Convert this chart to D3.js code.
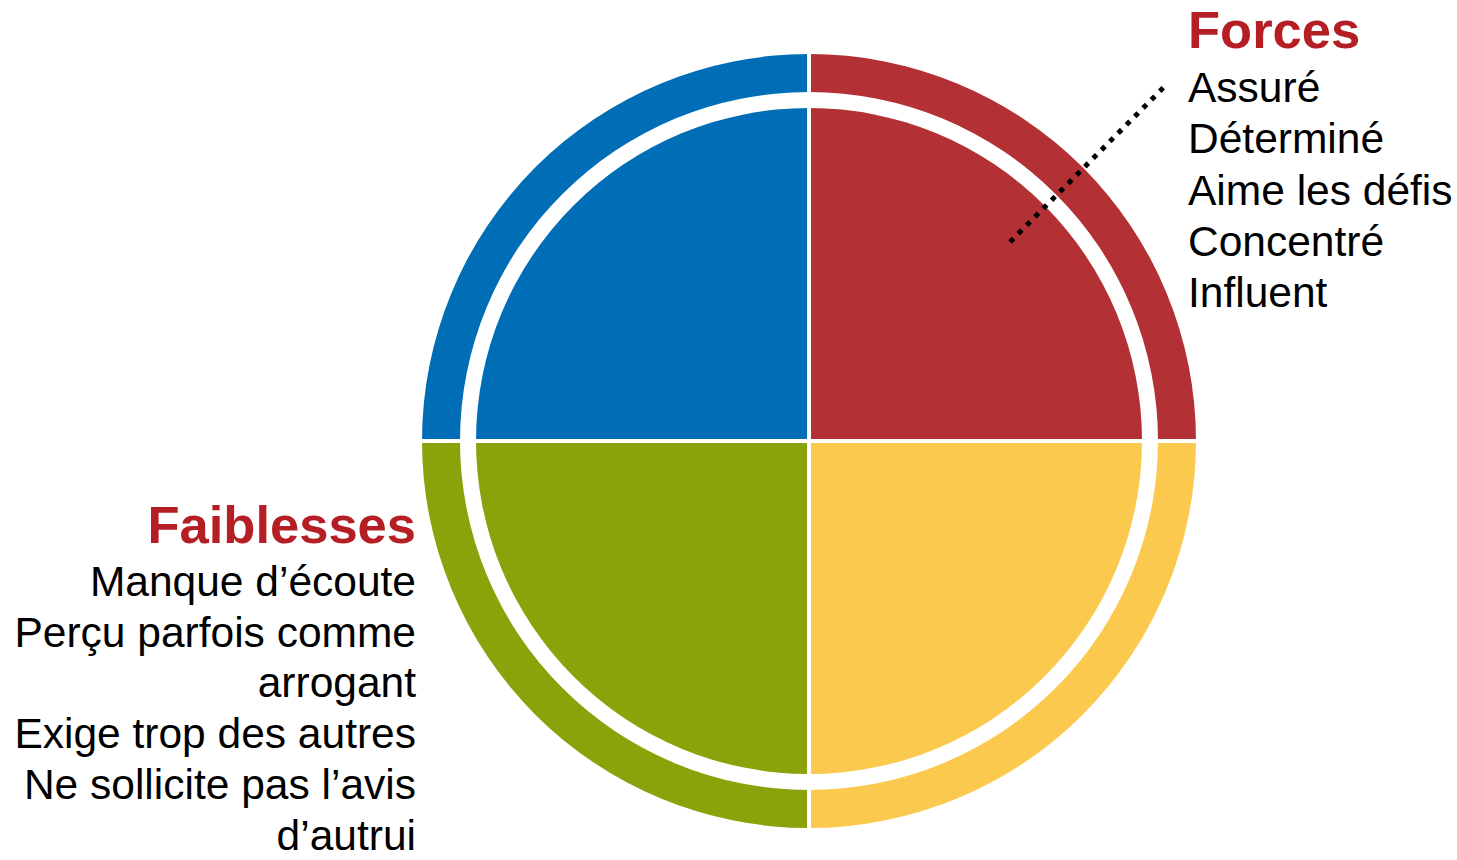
<!DOCTYPE html>
<html>
<head>
<meta charset="utf-8">
<script src="https://cdn.jsdelivr.net/npm/d3@7"></script>
<style>
  html, body { margin: 0; padding: 0; background: #fff; }
  svg { display: block; }
  text { font-family: "Liberation Sans", Arial, sans-serif; }
</style>
</head>
<body>
<svg id="chart" width="1457" height="860"></svg>
<script>
// Data
const quadrants = ["Forces", "Quadrant jaune", "Quadrant vert", "Quadrant bleu"];
const quadrantValues = [1, 1, 1, 1];
const quadrantColors = ["#B33034", "#FBC94E", "#8AA30A", "#006EB6"];
const forcesTitle = "Forces";
const forcesItems = ["Assuré", "Déterminé", "Aime les défis", "Concentré", "Influent"];
const faiblessesTitle = "Faiblesses";
const faiblessesItems = ["Manque d’écoute", "Perçu parfois comme", "arrogant", "Exige trop des autres", "Ne sollicite pas l’avis", "d’autrui"];

const svg = d3.select("#chart");
const cx = 809, cy = 441;
const rOuter = 387, rRingInner = 349, rPie = 333;
const gap = 4;

const pie = d3.pie().sort(null).value(d => d)(quadrantValues);

const g = svg.append("g").attr("transform", `translate(${cx},${cy})`);

const ringArc = d3.arc().innerRadius(rRingInner).outerRadius(rOuter);
const pieArc = d3.arc().innerRadius(0).outerRadius(rPie);

g.selectAll("path.ring").data(pie).join("path")
  .attr("class", "ring")
  .attr("d", ringArc)
  .attr("fill", (d, i) => quadrantColors[i]);

g.selectAll("path.slice").data(pie).join("path")
  .attr("class", "slice")
  .attr("d", pieArc)
  .attr("fill", (d, i) => quadrantColors[i]);

// white separators between quadrants
g.append("line").attr("x1", -rOuter - 2).attr("x2", rOuter + 2).attr("y1", 0).attr("y2", 0)
  .attr("stroke", "#fff").attr("stroke-width", gap);
g.append("line").attr("y1", -rOuter - 2).attr("y2", rOuter + 2).attr("x1", 0).attr("x2", 0)
  .attr("stroke", "#fff").attr("stroke-width", gap);

// dotted leader line from red slice to Forces list
svg.append("line")
  .attr("x1", 1010).attr("y1", 242)
  .attr("x2", 1164).attr("y2", 87)
  .attr("stroke", "#000")
  .attr("stroke-width", 5)
  .attr("stroke-dasharray", "5 6.8");

// Forces text
const fx = 1188;
svg.append("text").attr("x", fx).attr("y", 48)
  .attr("font-size", 52.5).attr("font-weight", "bold").attr("fill", "#B41E24")
  .text(forcesTitle);
svg.selectAll("text.forces").data(forcesItems).join("text")
  .attr("class", "forces")
  .attr("x", fx)
  .attr("y", (d, i) => 102 + i * 51.3)
  .attr("font-size", 42.5).attr("fill", "#000")
  .text(d => d);

// Faiblesses text
const wx = 416;
svg.append("text").attr("x", wx).attr("y", 543)
  .attr("text-anchor", "end")
  .attr("font-size", 52.5).attr("font-weight", "bold").attr("fill", "#B41E24")
  .text(faiblessesTitle);
svg.selectAll("text.faib").data(faiblessesItems).join("text")
  .attr("class", "faib")
  .attr("x", wx)
  .attr("y", (d, i) => 596 + i * 50.7)
  .attr("text-anchor", "end")
  .attr("font-size", 42.5).attr("fill", "#000")
  .text(d => d);
</script>
</body>
</html>
